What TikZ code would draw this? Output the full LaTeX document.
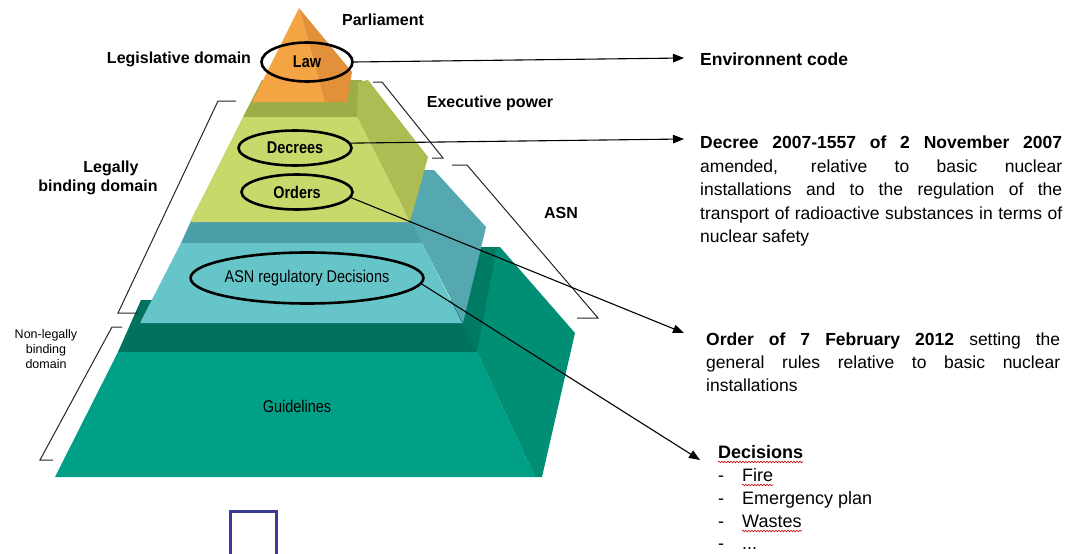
\documentclass[tikz,border=0pt]{standalone}
\usepackage{fontspec}
\setmainfont{Liberation Sans}
\newfontfamily\narrowfont[FakeStretch=0.85]{Liberation Sans}
\usetikzlibrary{shapes.geometric,arrows.meta,decorations.pathmorphing}
\definecolor{orF}{HTML}{F5A443}
\definecolor{orS}{HTML}{E2913A}
\definecolor{grF}{HTML}{C8D96B}
\definecolor{grB}{HTML}{9CAD48}
\definecolor{grS}{HTML}{ADBC53}
\definecolor{tqF}{HTML}{66C5C8}
\definecolor{tqB}{HTML}{4C9FA8}
\definecolor{tqS}{HTML}{55A8AF}
\definecolor{bgF}{HTML}{00A086}
\definecolor{bgB}{HTML}{00725E}
\definecolor{bgS}{HTML}{008E74}
\definecolor{bgD}{HTML}{007B63}
\definecolor{sqblue}{HTML}{3A3A98}
\newcommand\jline[2]{\makebox[#1][s]{#2}}
\begin{document}
\begin{tikzpicture}[x=1pt,y=-1pt,
  lab/.style={font=\fontsize{16}{19}\selectfont\bfseries, anchor=base, inner sep=0pt},
  smalllab/.style={font=\fontsize{12.5}{15}\selectfont, anchor=base, inner sep=0pt},
  rtxt/.style={font=\fontsize{17.5}{23}\selectfont, anchor=base west, inner sep=0pt},
  ltxt/.style={font=\fontsize{18}{23}\selectfont, anchor=base west, inner sep=0pt},
  ell/.style={ellipse, draw, line width=2.6pt, inner sep=0pt, font=\fontsize{17}{20}\narrowfont},
  intxt/.style={font=\fontsize{17}{20}\narrowfont, inner sep=0pt},
  arr/.style={line width=1.1pt, -{Triangle[length=11pt,width=8.5pt]}},
  brk/.style={line width=1pt, black!85},
  wavy/.style={draw=red!80!black, line width=0.6pt, decorate, decoration={snake, amplitude=0.8pt, segment length=3pt}}
]
\useasboundingbox (0,0) rectangle (1077,554);
\fill[white] (0,0) rectangle (1077,554);

% ---- tier 4 (bottom) ----
\fill[bgB] (141,300) -- (470,300) -- (477,352) -- (118,352) -- cycle;
\fill[bgF] (118,352) -- (477,352) -- (535,477) -- (55,477) -- cycle;
\fill[bgS] (478,247) -- (500,247) -- (575,333) -- (542,477) -- (535,477) -- (477,352) -- cycle;
\fill[bgD] (472,247) -- (497,247) -- (477,352) -- (462,323) -- (470,290) -- cycle;

% ---- tier 3 ----
\fill[tqB] (196,210) -- (415,210) -- (422,243) -- (181,243) -- cycle;
\fill[tqS] (418,170) -- (434,170) -- (486,227) -- (463,323) -- (422,243) -- (412,222) -- cycle;
\fill[tqF] (181,243) -- (422,243) -- (462,323) -- (140,323) -- cycle;

% ---- tier 2 ----
\fill[grB] (262,80) -- (362,80) -- (357,117) -- (243,117) -- cycle;
\fill[grS] (357,117) -- (358,82) -- (368,80) -- (428,157) -- (410,222) -- cycle;
\fill[grF] (243,117) -- (357,117) -- (410,222) -- (190,222) -- cycle;

% ---- tier 1 (top) ----
\fill[orS] (299,8) -- (325,102) -- (347,102) -- (352,72) -- cycle;
\fill[orF] (299,8) -- (252,102) -- (325,102) -- cycle;

% ---- ellipses and inner texts ----
\node[ell, minimum width=91pt, minimum height=39pt] (law) at (307,62) {\bfseries Law};
\node[ell, minimum width=113pt, minimum height=35pt] (decrees) at (295,148) {\bfseries Decrees};
\node[ell, minimum width=111pt, minimum height=35pt] (orders) at (297,192) {\bfseries Orders};
\node[ell, minimum width=199pt, minimum height=51pt] (asnd) at (307,278) {ASN regulatory Decisions};
\node[intxt] (guide) at (297,406) {Guidelines};

% ---- labels ----
\node[lab] (parl) at (383,25) {Parliament};
\node[lab] (legis) at (179,63) {Legislative domain};
\node[lab] (exec) at (490,107) {Executive power};
\node[lab] (asn) at (561,218) {ASN};
\node[lab] (lb1) at (111,172) {Legally};
\node[lab] (lb2) at (98,191) {binding domain};
\node[smalllab] (nl1) at (46,338) {Non-legally};
\node[smalllab] (nl2) at (46,353) {binding};
\node[smalllab] (nl3) at (46,368) {domain};

% ---- brackets ----
\draw[brk] (236,101) -- (218,101) -- (118,313) -- (138,313);
\draw[brk] (122,327) -- (112,327) -- (40,460) -- (53,460);
\draw[brk] (373,82) -- (382,82) -- (443,158) -- (432,158);
\draw[brk] (452,165) -- (467,165) -- (598,318) -- (577,318);

% ---- right texts ----
\node[rtxt] (env) at (700,65) {\bfseries Environnent code};
\node[rtxt] (d1) at (700,148) {\jline{362pt}{\bfseries Decree 2007-1557 of 2 November 2007}};
\node[rtxt] (d2) at (700,172) {\jline{362pt}{amended, relative to basic nuclear}};
\node[rtxt] (d3) at (700,195) {\jline{362pt}{installations and to the regulation of the}};
\node[rtxt] (d4) at (700,219) {\jline{362pt}{transport of radioactive substances in terms of}};
\node[rtxt] (d5) at (700,242) {nuclear safety};
\node[rtxt] (o1) at (706,345) {\jline{354pt}{\textbf{Order of 7 February 2012} setting the}};
\node[rtxt] (o2) at (706,368) {\jline{354pt}{general rules relative to basic nuclear}};
\node[rtxt] (o3) at (706,391) {installations};
\node[ltxt] (decis) at (718,458) {\bfseries Decisions};
\node[ltxt] (fire) at (718,481) {\makebox[24pt][l]{-}Fire};
\node[ltxt] (emerg) at (718,504) {\makebox[24pt][l]{-}Emergency plan};
\node[ltxt] (waste) at (718,527) {\makebox[24pt][l]{-}Wastes};
\node[ltxt] (more) at (718,549) {\makebox[24pt][l]{-}...};
\draw[wavy] ([yshift=-4pt]decis.base west) -- ([yshift=-4pt]decis.base east);
\draw[wavy] ([xshift=24pt,yshift=-4pt]fire.base west) -- ([yshift=-4pt]fire.base east);
\draw[wavy] ([xshift=24pt,yshift=-4pt]waste.base west) -- ([yshift=-4pt]waste.base east);

% ---- arrows ----
\coordinate (envtip) at (684,58);
\coordinate (dectip) at (684,139);
\coordinate (ordtip) at (684,333);
\coordinate (decitip) at (700,460);
\draw[arr] (law.east) -- (envtip);
\draw[arr] (decrees.5) -- (dectip);
\draw[arr] (orders.-6) -- (ordtip);
\draw[arr] (asnd.-3) -- (decitip);

% ---- blue square ----
\draw[sqblue, line width=3pt] (230,556) -- (230,511.5) -- (276,511.5) -- (276,556);
\end{tikzpicture}
\end{document}
